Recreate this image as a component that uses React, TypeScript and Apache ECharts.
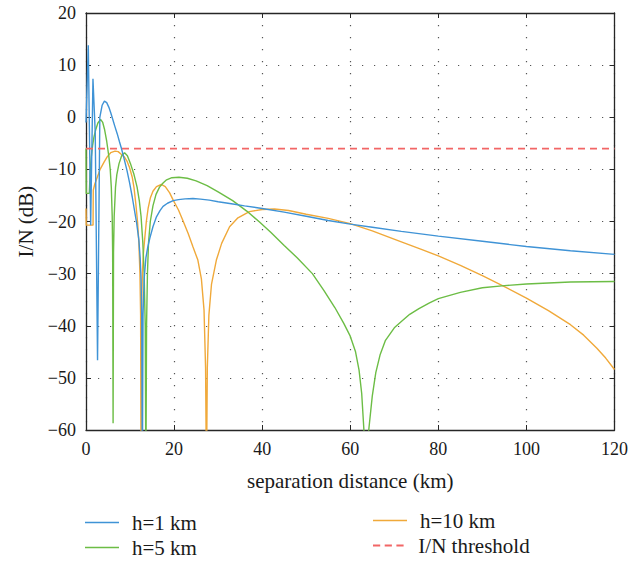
import React, { useEffect, useRef } from "react";
import * as echarts from "echarts";

// h = 1 km
const h1Dist = [0, 0.52, 1.06, 1.58, 2.1, 2.62, 3.14, 3.66, 4.18, 4.7, 5.2, 5.6, 6.0, 6.5, 7.1, 7.6, 8.05, 8.6, 9.3, 9.9, 10.5, 11.0, 11.5, 12.0, 12.3, 12.5, 12.65, 12.8, 12.95, 13.2, 13.6, 14.0, 14.5, 15.2, 16.0, 16.8, 17.5, 18.5, 19.8, 21, 22.5, 24.3, 26, 28, 30, 33, 36, 40, 45, 50, 55, 60, 65, 71.6, 80, 90, 100, 110, 120];
const h1Level = [-1, 13.8, -20.7, 7.4, -3, -46.6, 0, 2.3, 3.1, 2.8, 1.9, 0.9, -0.2, -1.6, -3.2, -4.7, -6, -7.8, -10.2, -12.6, -15.3, -17.8, -20.3, -23.5, -27, -31, -38, -70, -38, -31, -27, -25, -23.2, -21, -19.1, -17.9, -17.1, -16.5, -16.0, -15.8, -15.65, -15.6, -15.7, -15.9, -16.2, -16.6, -17.0, -17.5, -18.2, -19, -19.8, -20.5, -21.1, -21.9, -22.8, -23.8, -24.8, -25.6, -26.3];

// h = 5 km
const h5Dist = [0, 0.05, 0.75, 0.95, 1.2, 1.5, 1.8, 2.2, 2.7, 3.3, 3.8, 4.2, 4.7, 5.2, 5.5, 5.75, 5.95, 6.05, 6.15, 6.25, 6.4, 6.7, 7.0, 7.5, 8.1, 8.75, 9.4, 10.1, 10.9, 11.6, 12.1, 12.5, 12.9, 13.2, 13.45, 13.6, 13.75, 13.95, 14.2, 14.6, 15.2, 15.9, 16.7, 17.5, 18.3, 19.5, 21.1, 23, 25, 27.5, 30, 33.3, 36.5, 39.4, 42, 45, 48, 51.4, 54, 56.5, 58.5, 60, 61.2, 62.0, 62.6, 63.1, 63.65, 64.2, 65, 65.8, 66.8, 68, 70, 71.6, 73.5, 75.6, 78, 80, 85, 90, 95, 100, 110, 120];
const h5Level = [-6, -14.6, -14.6, -10.5, -7.6, -5.4, -3.8, -2.4, -1.1, -0.4, -1.0, -2.3, -4.6, -7.6, -10, -13.5, -19, -26, -58.7, -26, -19, -13.4, -11, -8.9, -7.4, -6.8, -7.4, -8.9, -11, -13.4, -16, -19, -24, -30, -40, -70, -40, -30, -24, -20, -17, -14.8, -13.4, -12.6, -12, -11.6, -11.5, -11.7, -12.2, -13.1, -14.3, -16.0, -18.0, -20.1, -22.1, -24.6, -27.0, -30, -33.2, -36.5, -39.5, -42, -45, -48.5, -53, -60, -70, -60, -53.5, -49, -45.5, -42.8, -40.4, -39.2, -37.8, -36.7, -35.6, -34.8, -33.6, -32.7, -32.3, -32, -31.6, -31.5];

// h = 10 km
const h10Dist = [0, 0.05, 1.6, 1.65, 2.0, 2.56, 3.2, 4.1, 4.8, 5.6, 6.6, 7.3, 8.0, 8.7, 9.3, 9.9, 10.5, 10.9, 11.3, 11.7, 12.0, 12.25, 12.4, 12.5, 12.6, 12.8, 13.05, 13.3, 13.7, 14.1, 14.6, 15.2, 16.0, 17.1, 18.0, 19.0, 19.8, 21, 22, 23.2, 24.3, 25.4, 26.2, 26.8, 27.15, 27.35, 27.55, 27.9, 28.5, 29.6, 30.8, 32.6, 34.5, 37.1, 40, 42.8, 46, 50, 55, 60, 65, 71.6, 76, 80, 85, 90, 95, 100, 105, 110, 113, 116, 118, 120];
const h10Level = [-17.5, -20.7, -20.7, -14, -12.8, -11.5, -10, -8.6, -7.6, -6.8, -6.5, -6.6, -7.1, -7.6, -8.4, -9.7, -11.5, -13.5, -16.5, -20, -24, -30, -38, -70, -38, -30, -26, -23.6, -20, -17.5, -15.5, -14.2, -13.3, -12.9, -13.3, -14.5, -15.9, -17.8, -19.8, -22.3, -24.9, -27.4, -31, -37, -48, -70, -48, -38, -32, -27.4, -24.2, -21, -19.3, -18.1, -17.7, -17.6, -17.9, -18.6, -19.4, -20.4, -21.8, -23.9, -25.3, -26.6, -28.4, -30.4, -32.5, -34.7, -37.1, -39.8, -41.8, -44.3, -46.2, -48.4];

// threshold
const thresholdDist = [0, 120];
const thresholdLevel = [-6, -6];

const seriesNames = ["h=1 km", "h=5 km", "h=10 km", "I/N threshold"];
const seriesColors = ["#3f93d6", "#6cbd45", "#f0a93a", "#f26666"];

const FONT = "'Liberation Serif', 'DejaVu Serif', serif";
const SOLID_ICON = "path://M0,0h34v1.4h-34z";
const DASH_ICON = "path://M0,0h8v2h-8zM13,0h8v2h-8zM26,0h8v2h-8z";

const pairs = (xs: number[], ys: number[]) => xs.map((x, i) => [x, ys[i]]);
const minus = (v: number) => String(v).replace("-", "\u2212");

export default function App() {
  const ref = useRef<HTMLDivElement>(null);
  useEffect(() => {
    if (!ref.current) return;
    const chart = echarts.init(ref.current, undefined, { renderer: "svg" });
    const axisLine = { show: true, onZero: false, lineStyle: { color: "#262626", width: 1.3 } };
    const tick = { show: true, inside: true, length: 5, lineStyle: { color: "#262626", width: 1 } };
    const split = { show: true, lineStyle: { color: "#555", width: 1.2, type: [1.2, 10.8] as any } };
    const labelStyle = { fontFamily: FONT, fontSize: 18, color: "#1a1a1a" };
    const titleStyle = { fontFamily: FONT, fontSize: 21, color: "#1a1a1a" };
    const legendAt = (i: number, left: number, top: number, icon: string, h: number) => ({
      data: [{ name: seriesNames[i], icon }],
      left, top, itemWidth: 34, itemHeight: h, selectedMode: false, padding: 0,
      textStyle: { ...titleStyle, padding: [0, 0, 0, 8] },
    });
    chart.setOption({
      animation: false,
      backgroundColor: "#fff",
      grid: { left: 86, right: 16, top: 13, bottom: 131, containLabel: false },
      xAxis: [
        {
          type: "value", min: 0, max: 120, interval: 20, position: "bottom",
          axisLine, axisTick: tick, splitLine: split,
          axisLabel: { ...labelStyle, margin: 10 },
          name: "separation distance (km)", nameLocation: "middle", nameGap: 40,
          nameTextStyle: titleStyle,
        },
        {
          type: "value", min: 0, max: 120, interval: 20, position: "top",
          axisLine, axisTick: tick, splitLine: { show: false }, axisLabel: { show: false },
        },
      ],
      yAxis: [
        {
          type: "value", min: -60, max: 20, interval: 10, position: "left",
          axisLine, axisTick: tick, splitLine: split,
          axisLabel: { ...labelStyle, margin: 10, formatter: (v: number) => minus(v) },
          name: "I/N (dB)", nameLocation: "middle", nameGap: 50, nameRotate: 90,
          nameTextStyle: titleStyle,
        },
        {
          type: "value", min: -60, max: 20, interval: 10, position: "right",
          axisLine, axisTick: tick, splitLine: { show: false }, axisLabel: { show: false },
        },
      ],
      legend: [
        legendAt(0, 85, 512, SOLID_ICON, 1.5),
        legendAt(1, 85, 537, SOLID_ICON, 1.5),
        legendAt(2, 373, 510, SOLID_ICON, 1.5),
        legendAt(3, 373, 535, DASH_ICON, 1.8),
      ],
      series: [
        {
          name: seriesNames[0], type: "line", data: pairs(h1Dist, h1Level), symbol: "none",
          clip: true, lineStyle: { color: seriesColors[0], width: 1.4 }, itemStyle: { color: seriesColors[0] }, z: 4,
        },
        {
          name: seriesNames[1], type: "line", data: pairs(h5Dist, h5Level), symbol: "none",
          clip: true, lineStyle: { color: seriesColors[1], width: 1.4 }, itemStyle: { color: seriesColors[1] }, z: 3,
        },
        {
          name: seriesNames[2], type: "line", data: pairs(h10Dist, h10Level), symbol: "none",
          clip: true, lineStyle: { color: seriesColors[2], width: 1.4 }, itemStyle: { color: seriesColors[2] }, z: 2,
        },
        {
          name: seriesNames[3], type: "line", data: pairs(thresholdDist, thresholdLevel), symbol: "none",
          clip: true, lineStyle: { color: seriesColors[3], width: 1.8, type: [7, 5] as any }, itemStyle: { color: seriesColors[3] }, z: 5,
        },
      ],
    });
    return () => chart.dispose();
  }, []);
  return <div ref={ref} style={{ position: "fixed", left: 0, top: 0, width: 631, height: 561 }} />;
}
